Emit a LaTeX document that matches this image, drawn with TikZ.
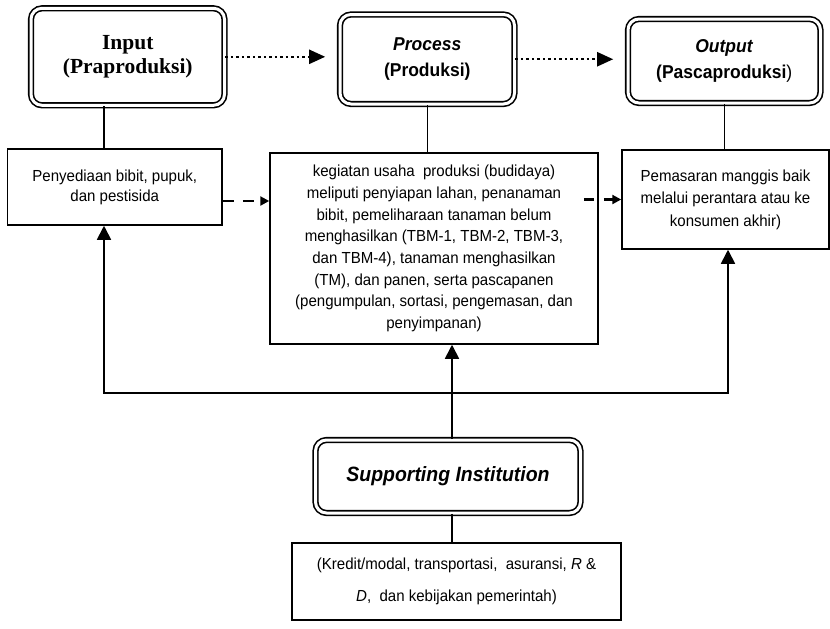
\documentclass[tikz,border=0pt]{standalone}
\usepackage{fontspec}
\setmainfont{Liberation Serif}
\setsansfont{Liberation Sans}[FakeStretch=0.94]
\usepackage{tikz}
\usetikzlibrary{arrows.meta, positioning, calc}

\begin{document}
\begin{tikzpicture}[x=1pt, y=-1pt, line width=1.3pt,
		stage box/.style={draw, double, double distance=3pt, line width=1.6pt,
			rounded corners=11pt, align=center, inner sep=0pt,
			font=\sffamily\bfseries\fontsize{18.6}{26}\selectfont},
		task box/.style={draw, line width=1.5pt, align=center, inner sep=0pt,
			font=\sffamily\fontsize{16}{21.7}\selectfont},
		dot arrow/.style={line width=2.2pt, dash pattern=on 2.5pt off 3pt,
			-{Triangle[length=16pt, width=14pt]}, shorten >=14pt},
		dash arrow/.style={line width=2.2pt,
			-{Triangle[length=9pt, width=9pt]}},
		back arrow/.style={line width=1.7pt},
		big tip/.style={{Triangle[length=14pt, width=14pt]}-{Triangle[length=14pt, width=14pt]}}]
	
	\useasboundingbox (0,0) rectangle (830,629);
	
	% top row
	\node[stage box, minimum width=193.5pt, minimum height=97pt,
		font=\rmfamily\bfseries\fontsize{21.5}{23.5}\selectfont]
		(input) at (127.75,56.8) {Input\\(Praproduksi)};
	\node[stage box, minimum width=174.5pt, minimum height=89.5pt]
		(process) at (427.25,59.25) {\textit{Process}\\(Produksi)};
	\node[stage box, minimum width=192.5pt, minimum height=84pt]
		(output) at (724.25,61) {\textit{Output}\\(Pascaproduksi\textmd{)}};
	
	% activity boxes
	\node[task box, minimum width=214.5pt, minimum height=76pt,
		font=\sffamily\fontsize{16}{20}\selectfont]
		(supply) at (114.75,187) {Penyediaan bibit, pupuk,\\dan pestisida};
	\node[task box, minimum width=328pt, minimum height=191pt]
		(cultivation) at (434,248.5) {kegiatan usaha\ \ produksi (budidaya)\\
		meliputi penyiapan lahan, penanaman\\
		bibit, pemeliharaan tanaman belum\\
		menghasilkan (TBM-1, TBM-2, TBM-3,\\
		dan TBM-4), tanaman menghasilkan\\
		(TM), dan panen, serta pascapanen\\
		(pengumpulan, sortasi, pengemasan, dan\\
		penyimpanan)};
	\node[task box, minimum width=207pt, minimum height=99pt,
		font=\sffamily\fontsize{16}{22.5}\selectfont]
		(marketing) at (725.5,199.5) {Pemasaran manggis baik\\melalui perantara atau ke\\konsumen akhir)};
	
	% supporting side
	\node[stage box, minimum width=265pt, minimum height=73pt,
		font=\sffamily\bfseries\itshape\fontsize{20.7}{23}\selectfont]
		(support) at (448,476.5) {Supporting Institution};
	\node[task box, minimum width=329pt, minimum height=77pt,
		font=\sffamily\fontsize{16}{32}\selectfont]
		(policy) at (456.5,581.5) {(Kredit/modal, transportasi,\ \ asuransi, \textit{R} \&\\
		\textit{D},\ \ dan kebijakan pemerintah)};
	
	\coordinate (lc) at (104,393);
	\coordinate (mc) at (452,393);
	\coordinate (rc) at (728,393);
	
	% links
	\draw (input.south -| lc) -- (supply.north -| lc);
	\draw (process.south) -- (process.south |- cultivation.north);
	\draw (output.south) -- (output.south |- marketing.north);
	
	\draw[dot arrow] (input.east) -- (input.east -| process.west);
	\draw[dot arrow] (process.east) -- (process.east -| output.west);
	
	\draw[dash arrow, dash pattern=on 11pt off 9pt] ([yshift=-14pt]supply.east) -- ([yshift=-14pt]supply.east -| cultivation.west);
	\draw[dash arrow, dash pattern=on 10pt off 10pt] ([xshift=-15pt]cultivation.east |- marketing.west) -- (marketing.west);
	
	\draw[back arrow, -{Triangle[length=14pt, width=14pt]}] (support.north -| mc) -- (cultivation.south -| mc);
	\draw[back arrow, big tip] (supply.south -| lc) -- (lc) -- (rc) -- (marketing.south -| rc);
	\draw (support.south -| mc) -- (policy.north -| mc);
	
\end{tikzpicture}
\end{document}
